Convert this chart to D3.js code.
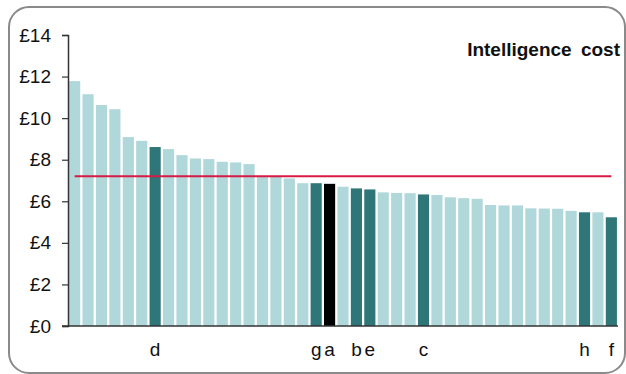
<!DOCTYPE html>
<html><head><meta charset="utf-8">
<script src="https://cdn.jsdelivr.net/npm/d3@7"></script>
<style>
html,body{margin:0;padding:0;background:#fff;}
svg{display:block;font-family:"Liberation Sans",Arial,sans-serif;}
</style></head>
<body>
<svg id="chart" width="626" height="374"></svg>
<script>
const values = [11.78,11.15,10.63,10.43,9.09,8.91,8.61,8.51,8.22,8.06,8.03,7.90,7.87,7.79,7.20,7.19,7.10,6.87,6.87,6.84,6.70,6.62,6.57,6.43,6.40,6.39,6.33,6.30,6.19,6.15,6.12,5.82,5.80,5.80,5.66,5.65,5.64,5.54,5.47,5.47,5.23];
const labels = ["","","","","","","d","","","","","","","","","","","","g","a","","b","e","","","","c","","","","","","","","","","","","h","","f"];
const kinds  = ["o","o","o","o","o","o","h","o","o","o","o","o","o","o","o","o","o","o","h","s","o","h","h","o","o","o","h","o","o","o","o","o","o","o","o","o","o","o","h","o","h"];
const yTicks = [0,2,4,6,8,10,12,14];
const tickLabels = ["£0","£2","£4","£6","£8","£10","£12","£14"];
const average = 7.21;
const title = "Intelligence cost";

const colors = {o:"#b0d7da", h:"#2f7679", s:"#000000"};
const svg = d3.select("#chart");

svg.append("rect").attr("x",9).attr("y",7).attr("width",616).attr("height",366)
  .attr("rx",20).attr("ry",20).attr("fill","#fff").attr("stroke","#8a8a8a").attr("stroke-width",2);

const ids = values.map((v,i)=>i);
const x = d3.scaleBand().domain(ids).range([68,618]).paddingInner(0.17).paddingOuter(0.08);
const y = d3.scaleLinear().domain([0,14]).range([326,35]);

svg.append("g").selectAll("rect").data(ids).join("rect")
  .attr("x",i=>x(i)).attr("width",x.bandwidth())
  .attr("y",i=>y(values[i])).attr("height",i=>y(0)-y(values[i]))
  .attr("fill",i=>colors[kinds[i]]);

// y axis
const yAxis = d3.axisLeft(y).tickValues(yTicks).tickFormat((d,i)=>tickLabels[i]).tickSize(6).tickPadding(11);
const gy = svg.append("g").attr("transform","translate(68,0)").call(yAxis);
gy.select(".domain").attr("stroke","#333").attr("stroke-width",1.5);
gy.selectAll(".tick line").attr("stroke","#333").attr("stroke-width",1.2);
gy.selectAll(".tick text").attr("font-size",19).attr("fill","#111").attr("font-family","Liberation Sans, Arial, sans-serif");

// x axis
const xAxis = d3.axisBottom(x).tickSize(0).tickPadding(17).tickFormat(i=>labels[i]);
const gx = svg.append("g").attr("transform","translate(0,326)").call(xAxis);
gx.select(".domain").remove();
gx.selectAll(".tick text").attr("font-size",19).attr("fill","#111").attr("font-family","Liberation Sans, Arial, sans-serif");
svg.append("line").attr("x1",62).attr("x2",618).attr("y1",326).attr("y2",326).attr("stroke","#333").attr("stroke-width",1.5);

// average line
svg.append("line")
  .attr("x1",x(0)+x.bandwidth()/2).attr("x2",x(values.length-1)+x.bandwidth()/2)
  .attr("y1",y(average)).attr("y2",y(average))
  .attr("stroke","#d81b43").attr("stroke-width",2);

svg.append("text").attr("x",620).attr("y",56).attr("text-anchor","end")
  .attr("font-size",19).attr("font-weight","bold").attr("word-spacing",4).attr("fill","#111")
  .text(title);
</script>
</body></html>
